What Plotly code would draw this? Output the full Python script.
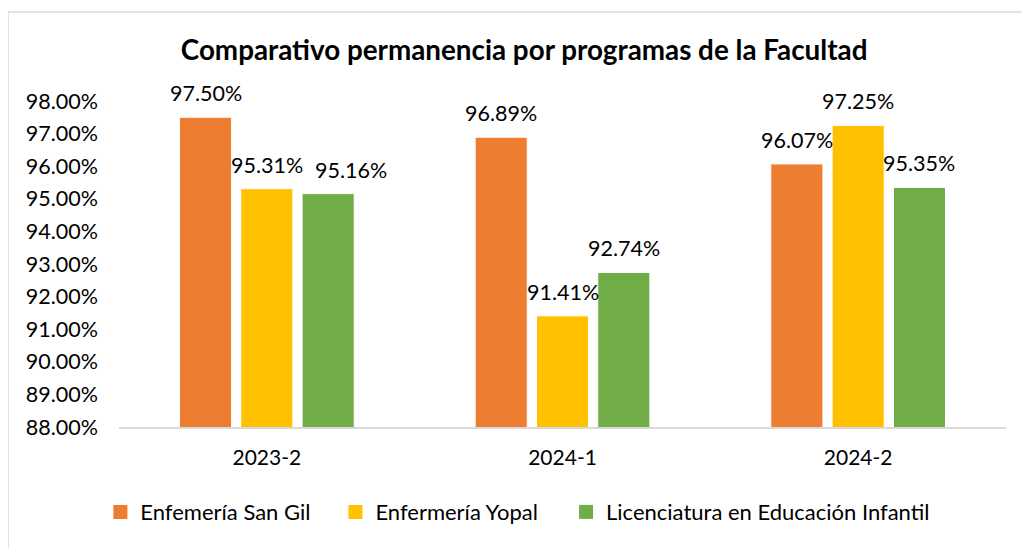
import plotly.graph_objects as go

categories = ["2023-2", "2024-1", "2024-2"]
series_names = ["Enfemería San Gil", "Enfermería Yopal", "Licenciatura en Educación Infantil"]
san_gil = [97.50, 96.89, 96.07]
yopal = [95.31, 91.41, 97.25]
licenciatura = [95.16, 92.74, 95.35]
colors = ["#ED7D31", "#FFC000", "#70AD47"]
y_ticks = [88, 89, 90, 91, 92, 93, 94, 95, 96, 97, 98]
y_tick_labels = [f"{v:.2f}%" for v in y_ticks]

FONT = "Lato"
W, H = 1022, 540
ML, MR, MT, MB = 111, 24, 93, 121
BARGAP, GROUPGAP = 0.378, 0.15
plot_w = W - ML - MR
slot = plot_w / len(categories) * (1 - BARGAP) / 3
# label nudges (style only): series index, category -> pixel shift
label_nudge = {(2, "2023-2"): 23}
legend_names = ["legend", "legend2", "legend3"]
legend_x = [-0.021, 0.244, 0.504]

fig = go.Figure()
all_series = [san_gil, yopal, licenciatura]
for i, (name, vals, col) in enumerate(zip(series_names, all_series, colors)):
    fig.add_trace(go.Bar(
        x=categories, y=vals, name=name, showlegend=False,
        marker=dict(color=col, line=dict(color="white", width=1)),
        hoverinfo="x+y",
    ))
    fig.add_trace(go.Scatter(
        x=[categories[0]], y=[None], name=name, mode="markers",
        marker=dict(symbol="square", size=14, color=col),
        legend=legend_names[i],
    ))
    for c, v in zip(categories, vals):
        fig.add_annotation(x=c, y=v, text=f"{v:.2f}%", showarrow=False,
                           xshift=(i - 1) * slot + label_nudge.get((i, c), 0),
                           yshift=9, yanchor="bottom",
                           font=dict(family=FONT, size=21.5, color="#000000"))

leg_common = dict(orientation="h", xanchor="left", y=-0.261, yanchor="middle",
                  font=dict(family=FONT, size=22), itemwidth=30,
                  itemsizing="trace", bgcolor="rgba(0,0,0,0)")
fig.update_layout(
    width=W, height=H,
    paper_bgcolor="white", plot_bgcolor="white",
    margin=dict(l=ML, r=MR, t=MT, b=MB, autoexpand=False),
    barmode="group", bargap=BARGAP, bargroupgap=GROUPGAP,
    font=dict(family=FONT, size=22, color="#000000"),
    title=dict(text="<b>Comparativo permanencia por programas de la Facultad</b>",
               x=0.505, xanchor="center", y=0.922, yanchor="middle",
               font=dict(family=FONT, size=27.8, color="#000000")),
    legend=dict(x=legend_x[0], **leg_common),
    legend2=dict(x=legend_x[1], **leg_common),
    legend3=dict(x=legend_x[2], **leg_common),
    showlegend=True,
)
fig.update_yaxes(range=[88, 98], tickvals=y_ticks, ticktext=y_tick_labels,
                 showgrid=False, zeroline=False, showline=False, automargin=False,
                 ticklabelstandoff=20, tickfont=dict(family=FONT, size=21.5))
fig.update_xaxes(type="category", showgrid=False, showline=True, linecolor="#D9D9D9", linewidth=2,
                 ticks="", ticklabelstandoff=11, automargin=False,
                 tickfont=dict(family=FONT, size=21))
fig.add_shape(type="rect", xref="paper", yref="paper",
              x0=-ML / plot_w, x1=1.2, y0=-0.8, y1=1 + (MT - 4) / (H - MT - MB),
              line=dict(color="#D9D9D9", width=1.5), layer="below")
fig.write_html("out.html")
